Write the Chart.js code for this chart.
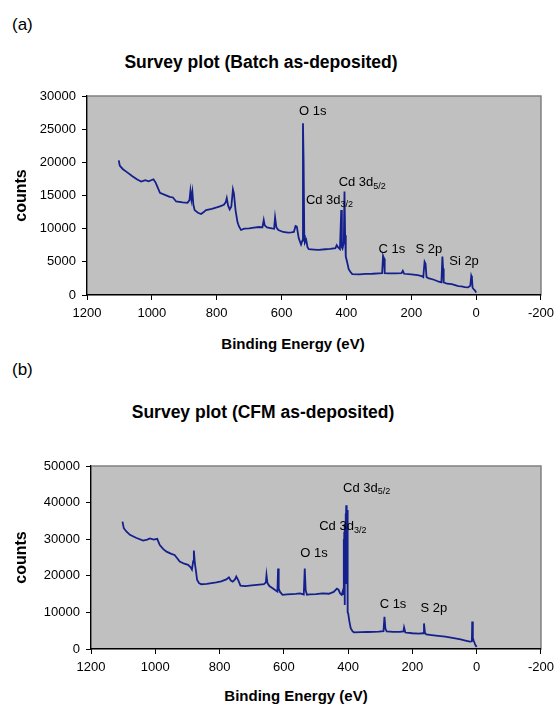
<!DOCTYPE html>
<html>
<head>
<meta charset="utf-8">
<script src="https://cdn.jsdelivr.net/npm/chart.js@4"></script>
<style>
  body { margin: 0; background: #fff; font-family: "Liberation Sans", Arial, sans-serif; }
  .page { position: relative; width: 560px; height: 712px; overflow: hidden; }
  .txt { position: absolute; white-space: nowrap; color: #000; transform: translateY(-50%); }
  .panel { left: 12px; font-size: 17px; }
  .title { font-weight: bold; font-size: 17.5px; transform: translate(-50%, -50%); }
  .xlabel { font-weight: bold; font-size: 15px; transform: translate(-50%, -50%); }
  .box { position: absolute; left: 0; width: 560px; }
</style>
</head>
<body>
<div class="page">
  <div class="txt panel" style="top:25px">(a)</div>
  <div class="txt title" style="left:261px; top:62px">Survey plot (Batch as-deposited)</div>
  <div class="box" style="top:0; height:330px"><canvas id="chartA"></canvas></div>
  <div class="txt xlabel" style="left:293px; top:343px">Binding Energy (eV)</div>

  <div class="txt panel" style="top:370px">(b)</div>
  <div class="txt title" style="left:263px; top:412px">Survey plot (CFM as-deposited)</div>
  <div class="box" style="top:356px; height:328px"><canvas id="chartB"></canvas></div>
  <div class="txt xlabel" style="left:296px; top:695px">Binding Energy (eV)</div>
</div>

<script>
// (a) Batch as-deposited spectrum
const batchEnergy = [1102, 1099, 1090, 1079, 1060, 1045, 1033, 1020, 1010, 995, 988, 975, 960, 945, 935, 925, 905, 890, 884, 881, 878, 875, 872, 868, 858, 848, 840, 833, 815, 800, 790, 778, 772, 769, 765, 760, 755, 750, 747, 742, 736, 731, 725, 715, 700, 685, 669, 659, 655, 652, 645, 630, 623, 620, 616, 610, 595, 580, 570, 562, 557, 553, 547, 540, 536, 534, 532, 530, 528, 524, 520, 516, 500, 485, 465, 450, 434, 430, 426, 420, 416, 414, 412, 408, 406, 404, 402, 398, 393, 388, 382, 360, 340, 320, 300, 290, 287, 284, 282, 270, 250, 230, 226, 222, 200, 180, 168, 163, 159, 156, 153, 148, 130, 115, 107, 104, 102, 100, 90, 75, 65, 55, 45, 35, 25, 18, 15, 13, 11, 8, 4, 1, 0];
const batchCounts = [20300, 19500, 19000, 18600, 17900, 17400, 17100, 17300, 17150, 17450, 16900, 15400, 15100, 14800, 14700, 14100, 13950, 13900, 14300, 15700, 14400, 15500, 13600, 12800, 12400, 12200, 12500, 12800, 13000, 13200, 13350, 13600, 14000, 14600, 13500, 12900, 13300, 15900, 15300, 12800, 11000, 10300, 9800, 10000, 10050, 10150, 10250, 10200, 11300, 10500, 10200, 10050, 10000, 11700, 10200, 9800, 9500, 9400, 9450, 9500, 10400, 10300, 8550, 7600, 8200, 25900, 20000, 9000, 7900, 8300, 7200, 6900, 6850, 6800, 6900, 6950, 7050, 7500, 7200, 6900, 12800, 7200, 7000, 8000, 15600, 9000, 5800, 5000, 3900, 3500, 3150, 3100, 3180, 3200, 3250, 3280, 5900, 5500, 3300, 3250, 3250, 3300, 3650, 3200, 3100, 3000, 2860, 2700, 5000, 4700, 2700, 2550, 2300, 2000, 1900, 5800, 4000, 1900, 1700, 1650, 1500, 1350, 1300, 1200, 1150, 1400, 2900, 2600, 1100, 900, 700, 450, 350];
const batchPeakNames = ["O 1s", "Cd 3d", "Cd 3d", "C 1s", "S 2p", "Si 2p"];
const batchPeakSubs = ["", "5/2", "3/2", "", "", ""];
const batchPeakE = [546, 424, 525, 301, 187, 83];
const batchPeakC = [27600, 17000, 14300, 6900, 6800, 5000];

// (b) CFM as-deposited spectrum
const cfmEnergy = [1102, 1098, 1090, 1079, 1060, 1038, 1025, 1017, 1005, 994, 986, 975, 965, 950, 940, 930, 924, 910, 898, 890, 886, 882, 880, 877, 873, 870, 864, 857, 840, 825, 810, 795, 779, 771, 765, 759, 752, 748, 742, 735, 720, 700, 676, 662, 656, 654, 651, 645, 635, 625, 620, 618, 616, 612, 604, 590, 575, 563, 550, 538, 535, 532, 528, 520, 500, 480, 460, 445, 435, 430, 425, 420, 416, 415, 414, 413, 412, 411, 410, 409, 408, 407, 406, 405, 404, 403, 402, 401, 400, 396, 392, 386, 382, 360, 340, 320, 305, 290, 287, 284, 280, 260, 240, 228, 226, 222, 200, 180, 167, 164, 161, 157, 140, 120, 98, 80, 67, 50, 35, 21, 15, 14, 12, 9, 6, 3, 0];
const cfmCounts = [34800, 33000, 32100, 31200, 30400, 29600, 29900, 30200, 29900, 30100, 28400, 27300, 26600, 26000, 25700, 24600, 23900, 23300, 23000, 22300, 21700, 24000, 26900, 23500, 21000, 18900, 18000, 17700, 17800, 18000, 18200, 18500, 19000, 19600, 18700, 18400, 19000, 19800, 18800, 17300, 17200, 17400, 17600, 17700, 18200, 20200, 18000, 17200, 16600, 16000, 15700, 22000, 16500, 15600, 14800, 14900, 15000, 15050, 15200, 14900, 22000, 16000, 14800, 14900, 15000, 15200, 15100, 15600, 16500, 16200, 15200, 14800, 16000, 15000, 30000, 20000, 32000, 12000, 34000, 18000, 37000, 25000, 39300, 36000, 28000, 38000, 12000, 10000, 9800, 7500, 5700, 4800, 4550, 4600, 4650, 4700, 4750, 4900, 8800, 5500, 4800, 4700, 4700, 4800, 5900, 4500, 4300, 4200, 4300, 7000, 4400, 4000, 3800, 3600, 3400, 3100, 2900, 2600, 2300, 2000, 2100, 7500, 3000, 2200, 1500, 900, 600];
const cfmPeakNames = ["Cd 3d", "Cd 3d", "O 1s", "C 1s", "S 2p"];
const cfmPeakSubs = ["5/2", "3/2", "", "", ""];
const cfmPeakE = [416, 490, 549, 302, 175];
const cfmPeakC = [44000, 33600, 26000, 12300, 11200];

const xTicks = [1200, 1000, 800, 600, 400, 200, 0, -200];
const lineColor = "#14208c";
const fontFamily = "'Liberation Sans', Arial, sans-serif";

// grey plot area with a thin frame, like the old spreadsheet charts
const plotFrame = {
    id: "plotFrame",
    beforeDraw(chart) {
        const { ctx, chartArea: a } = chart;
        ctx.save();
        ctx.fillStyle = "#c0c0c0";
        ctx.fillRect(a.left, a.top, a.right - a.left, a.bottom - a.top);
        ctx.strokeStyle = "#808080";
        ctx.lineWidth = 1.5;
        ctx.strokeRect(a.left, a.top, a.right - a.left, a.bottom - a.top);
        ctx.restore();
    }
};

// peak labels, anchored in data units
const peakLabels = {
    id: "peakLabels",
    afterDatasetsDraw(chart, args, opts) {
        const { ctx, scales } = chart;
        ctx.save();
        ctx.fillStyle = "#000";
        ctx.textBaseline = "middle";
        ctx.textAlign = "left";
        opts.names.forEach((name, i) => {
            const x = scales.x.getPixelForValue(opts.energy[i]);
            const y = scales.y.getPixelForValue(opts.counts[i]);
            ctx.font = "13px " + fontFamily;
            ctx.fillText(name, x, y);
            if (opts.subs[i]) {
                const w = ctx.measureText(name).width;
                ctx.font = "9px " + fontFamily;
                ctx.fillText(opts.subs[i], x + w, y + 4);
            }
        });
        ctx.restore();
    }
};

function makeChart(id, energy, counts, yMax, yStep, names, subs, peakE, peakC, plotLeft, plotTop) {
    const points = energy.map((e, i) => ({ x: e, y: counts[i] }));
    return new Chart(document.getElementById(id), {
        type: "scatter",
        data: {
            datasets: [{
                data: points,
                showLine: true,
                borderColor: lineColor,
                borderWidth: 1.8,
                pointRadius: 0,
                tension: 0
            }]
        },
        options: {
            responsive: true,
            maintainAspectRatio: false,
            animation: false,
            layout: { padding: { top: plotTop, right: 17, left: 0, bottom: 0 } },
            plugins: {
                legend: { display: false },
                tooltip: { enabled: false },
                peakLabels: { names: names, subs: subs, energy: peakE, counts: peakC }
            },
            scales: {
                x: {
                    type: "linear",
                    reverse: true,
                    min: -200,
                    max: 1200,
                    afterBuildTicks: s => { s.ticks = xTicks.map(v => ({ value: v })); },
                    afterFit: s => { s.height = 35; },
                    grid: { drawOnChartArea: false, tickLength: 5, color: "#000" },
                    border: { color: "#000", width: 1.2 },
                    ticks: {
                        color: "#000", padding: 6,
                        font: { size: 13, family: fontFamily },
                        callback: v => String(v)
                    }
                },
                y: {
                    min: 0,
                    max: yMax,
                    ticks: {
                        stepSize: yStep, color: "#000", padding: 6,
                        font: { size: 13, family: fontFamily },
                        callback: v => String(v)
                    },
                    afterFit: s => { s.width = plotLeft; },
                    grid: { drawOnChartArea: false, tickLength: 5, color: "#000" },
                    border: { color: "#000", width: 1.2 },
                    title: {
                        display: true,
                        text: "counts",
                        color: "#000",
                        padding: { top: 12, bottom: 0 },
                        font: { size: 16, weight: "bold", family: fontFamily }
                    }
                }
            }
        },
        plugins: [plotFrame, peakLabels]
    });
}

makeChart("chartA", batchEnergy, batchCounts, 30000, 5000,
    batchPeakNames, batchPeakSubs, batchPeakE, batchPeakC, 87, 96);
makeChart("chartB", cfmEnergy, cfmCounts, 50000, 10000,
    cfmPeakNames, cfmPeakSubs, cfmPeakE, cfmPeakC, 91, 110);
</script>
</body>
</html>
